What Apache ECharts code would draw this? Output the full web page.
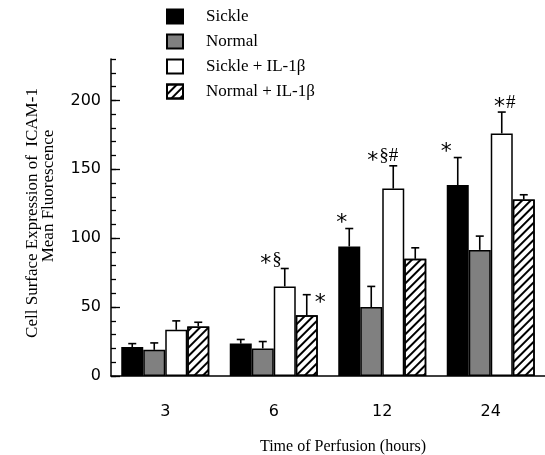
<!DOCTYPE html>
<html>
<head>
<meta charset="utf-8">
<script src="https://cdn.jsdelivr.net/npm/echarts@6/dist/echarts.min.js"></script>
<style>
  html, body { margin: 0; padding: 0; background: #fff; }
  #chart { width: 545px; height: 455px; }
</style>
</head>
<body>
<div id="chart"></div>
<script>
// Perfusion times (hours)
const categories = ['3', '6', '12', '24'];

// Mean fluorescence and upper error (SEM) per group
const sickle       = [21, 23.5, 94, 138.5];
const sickleErr    = [2.5, 3, 13, 20];
const normal       = [19, 20, 50, 91.5];
const normalErr    = [5, 5, 15, 10];
const sickleIL     = [33.5, 65, 136, 176];
const sickleILErr  = [6.5, 13, 16.5, 15.5];
const normalIL     = [36, 44, 85, 128];
const normalILErr  = [3, 15, 8, 3.5];

// Significance markers above the error bars
const sickleNotes   = ['', '', '*', '*'];
const normalNotes   = ['', '', '', ''];
const sickleILNotes = ['', '*§', '*§#', '*#'];
const normalILNotes = ['', '*', '', ''];

const yTickLabels = [0, 50, 100, 150, 200];

const groups = [
  { name: 'Sickle',          values: sickle,   errs: sickleErr,   notes: sickleNotes },
  { name: 'Normal',          values: normal,   errs: normalErr,   notes: normalNotes },
  { name: 'Sickle + IL-1β',  values: sickleIL, errs: sickleILErr, notes: sickleILNotes },
  { name: 'Normal + IL-1β',  values: normalIL, errs: normalILErr, notes: normalILNotes }
];

// Visual styling
const BAR_W = 22;
const serif = 'Liberation Serif';
const sans = 'DejaVu Sans';
const fills = ['#000000', '#808080', '#ffffff', '#ffffff'];
const hatch = {
  symbol: 'rect', symbolSize: 1, color: '#000',
  dashArrayX: [1, 0], dashArrayY: [1.6, 3.2], rotation: -Math.PI / 4
};
// Marker placement relative to the error cap: [dx, dy, align]
const notePlace = {
  '0-2': [-7, 0, 'center'],
  '0-3': [-11, 0, 'center'],
  '2-1': [-3, 1, 'right'],
  '2-2': [5, 0, 'right'],
  '2-3': [3, 0, 'center'],
  '3-1': [14, 14, 'center']
};
// Asterisks are set larger than the other symbols
function richNote(s) {
  return s.split('').map(ch => ch === '*' ? '{a|*}' : '{b|' + ch + '}').join('');
}

const barSeries = groups.map((g, i) => ({
  name: g.name,
  type: 'bar',
  data: g.values,
  barWidth: BAR_W,
  barGap: '0%',
  itemStyle: Object.assign(
    { color: fills[i], borderColor: '#000', borderWidth: 1.5 },
    i === 3 ? { decal: hatch } : {}
  ),
  emphasis: { disabled: true },
  z: 2
}));

const errSeries = groups.map((g, si) => ({
  type: 'custom',
  silent: true,
  z: 3,
  data: g.values.map((v, ci) => [ci, v, g.errs[ci]]),
  renderItem: function (params, api) {
    const ci = api.value(0);
    const v = api.value(1);
    const e = api.value(2);
    const note = g.notes[ci];
    const x = api.coord([ci, 0])[0] + (si - 1.5) * BAR_W;
    const yTop = api.coord([ci, v])[1];
    const yCap = api.coord([ci, v + e])[1];
    const children = [
      { type: 'line', shape: { x1: x, y1: yTop, x2: x, y2: yCap }, style: { stroke: '#000', lineWidth: 1.6 } },
      { type: 'line', shape: { x1: x - 4, y1: yCap, x2: x + 4, y2: yCap }, style: { stroke: '#000', lineWidth: 1.6 } }
    ];
    if (note) {
      const p = notePlace[si + '-' + ci] || [0, 0, 'center'];
      children.push({
        type: 'text',
        x: x + p[0], y: yCap + p[1],
        style: {
          text: richNote(note), align: p[2], verticalAlign: 'bottom', fill: '#000',
          rich: {
            a: { fontFamily: 'DejaVu Sans', fontSize: 22, lineHeight: 22, verticalAlign: 'bottom', padding: [0, 1, -6, 0] },
            b: { fontFamily: serif, fontSize: 19, lineHeight: 22, verticalAlign: 'bottom' }
          }
        }
      });
    }
    return { type: 'group', children: children };
  }
}));

const chart = echarts.init(document.getElementById('chart'), null, { renderer: 'canvas' });
chart.setOption({
  animation: false,
  backgroundColor: '#fff',
  legend: {
    orient: 'vertical',
    left: 166, top: 8,
    padding: 0,
    icon: 'rect',
    itemWidth: 16, itemHeight: 14, itemGap: 8,
    selectedMode: false,
    data: groups.map(g => g.name),
    textStyle: { fontFamily: serif, fontSize: 17, color: '#000', padding: [3, 0, 0, 18] }
  },
  grid: { left: 111, top: 59, width: 442, height: 317, containLabel: false },
  xAxis: {
    type: 'category',
    data: categories,
    axisLine: { lineStyle: { color: '#000', width: 1.5 } },
    axisTick: { inside: true, length: 9, alignWithLabel: false, lineStyle: { color: '#000', width: 1.5 } },
    axisLabel: { margin: 28, fontFamily: sans, fontSize: 16, color: '#000' },
    splitLine: { show: false }
  },
  yAxis: [
    {
      type: 'value', position: 'left', min: 0, max: 230, interval: 10,
      axisLine: { show: true, lineStyle: { color: '#000', width: 1.5 } },
      axisTick: { show: true, inside: true, length: 5, lineStyle: { color: '#000', width: 1.3 } },
      axisLabel: { customValues: yTickLabels, margin: 10, fontFamily: sans, fontSize: 16, color: '#000' },
      splitLine: { show: false }
    },
    {
      type: 'value', position: 'left', offset: 0, min: 0, max: 230, interval: 10,
      axisLine: { show: false },
      axisTick: { show: true, inside: true, length: 9, customValues: yTickLabels, lineStyle: { color: '#000', width: 1.3 } },
      axisLabel: { show: false },
      splitLine: { show: false }
    }
  ],
  graphic: [
    {
      type: 'text', x: 33, y: 213, rotation: Math.PI / 2,
      style: { text: 'Cell Surface Expression of  ICAM-1', align: 'center', verticalAlign: 'middle', font: '17px "' + serif + '"', fill: '#000' }
    },
    {
      type: 'text', x: 49, y: 196, rotation: Math.PI / 2,
      style: { text: 'Mean Fluorescence', align: 'center', verticalAlign: 'middle', font: '17px "' + serif + '"', fill: '#000' }
    },
    {
      type: 'text', x: 343, y: 447,
      style: { text: 'Time of Perfusion (hours)', align: 'center', verticalAlign: 'middle', font: '16px "' + serif + '"', fill: '#000' }
    }
  ],
  series: barSeries.concat(errSeries)
});
</script>
</body>
</html>
